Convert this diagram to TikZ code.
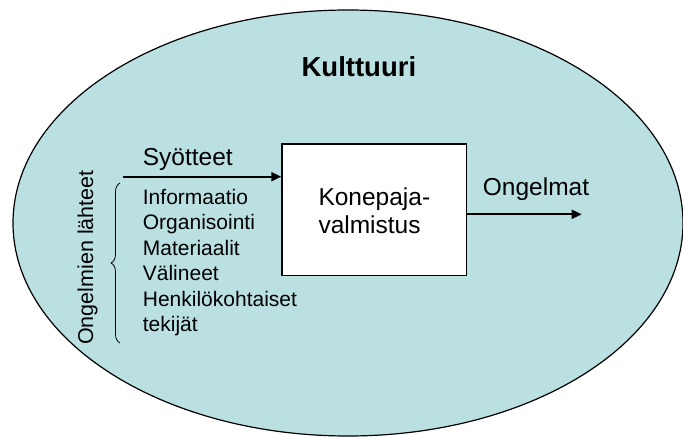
\documentclass[tikz,border=0pt]{standalone}
\usepackage{fontspec}
\setmainfont{Liberation Sans}
\usetikzlibrary{arrows.meta,decorations.pathreplacing,shapes.geometric}
\definecolor{culturefill}{RGB}{186,224,226}
\begin{document}
\begin{tikzpicture}[x=1pt,y=-1pt,
  conn/.style={line width=2pt,-{Triangle[length=10pt,width=9pt]}},
  biglbl/.style={inner sep=0pt,anchor=base west,font=\fontsize{24.5}{28}\selectfont},
  listlbl/.style={inner sep=0pt,anchor=base west,align=left,font=\fontsize{21}{25.5}\selectfont},
  processbox/.style={draw,line width=1.3pt,fill=white,minimum width=184.7pt,minimum height=131.7pt,inner sep=0pt}
]
\useasboundingbox (0,0) rectangle (683,437);
\node[ellipse,draw,line width=1.2pt,fill=culturefill,minimum width=670pt,minimum height=426pt,inner sep=0pt] (culture) at (348,223) {};
\node[inner sep=0pt,anchor=base,font=\bfseries\fontsize{27.5}{32}\selectfont] (kulttuuri) at (358.9,76.7) {Kulttuuri};
\node[processbox] (box) at (374.3,209.8) {};
\node[biglbl,align=left] (boxtext) at (318.3,233) {Konepaja-\\valmistus};
\node[biglbl] (syotteet) at (142.7,165) {Syötteet};
\node[biglbl] (ongelmat) at (482.7,195.7) {Ongelmat};
\node[listlbl] (list) at (142.7,331.5) {Informaatio\\Organisointi\\Materiaalit\\Välineet\\Henkilökohtaiset\\tekijät};
\node[inner sep=0pt,anchor=base,rotate=90,font=\fontsize{21.5}{25}\selectfont] (sources) at (93,257.5) {Ongelmien lähteet};
\coordinate (inStart) at (122.7,176.7);
\coordinate (outEnd) at (581.7,214.3);
\coordinate (braceBottom) at (120,343);
\coordinate (braceTop) at (120,183);
\draw[conn] (inStart) -- (inStart -| box.west);
\draw[conn] (box.east |- outEnd) -- (outEnd);
\draw[line width=0.8pt,decorate,decoration={brace,amplitude=9pt}] (braceBottom) -- (braceTop);
\end{tikzpicture}
\end{document}
